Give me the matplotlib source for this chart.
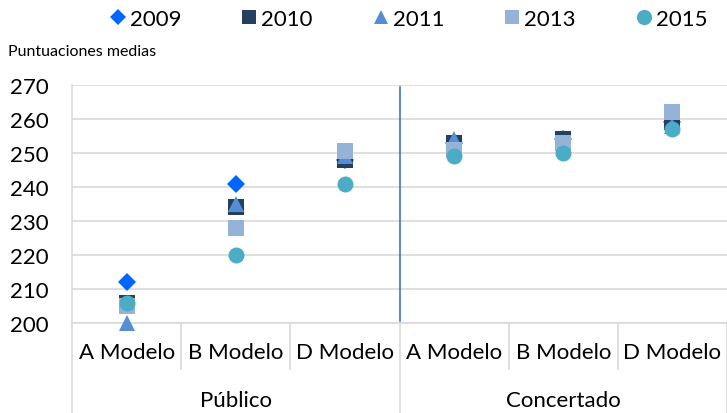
import matplotlib.pyplot as plt
from matplotlib.lines import Line2D

plt.rcParams['font.family'] = ['Lato', 'DejaVu Sans']

# Datos: puntuaciones medias por red y modelo
groups = ['Público', 'Concertado']
models = ['A Modelo', 'B Modelo', 'D Modelo', 'A Modelo', 'B Modelo', 'D Modelo']
years = ['2009', '2010', '2011', '2013', '2015']

v2009 = [212, 241, 248, 253, 254, 259]
v2010 = [206, 234, 248, 253, 254, 259]
v2011 = [200, 235, 249, 254, 253, 258]
v2013 = [205, 228, 250.5, 251, 253, 262]
v2015 = [206, 220, 241, 249, 250, 257]

series = [v2009, v2010, v2011, v2013, v2015]
colors = ['#0066FF', '#243F60', '#558ED5', '#95B3D7', '#4BACC6']
markers = ['D', 's', '^', 's', 'o']
sizes = [9, 11, 11, 11, 11.5]

FS = 16

fig = plt.figure(figsize=(7.27, 4.14), dpi=100)
ax = fig.add_axes([72 / 727, 1 - 324 / 414, 1 - 72 / 727, (324 - 86) / 414])

xs = [i + 0.5 for i in range(len(models))]
for vals, c, m, s, lab in zip(series, colors, markers, sizes, years):
    ax.plot(xs, vals, linestyle='none', marker=m, color=c, markersize=s,
            markeredgewidth=0, label=lab, zorder=3, clip_on=False)

ax.set_xlim(0, len(models))
ax.set_ylim(200, 270)
ax.set_yticks(range(200, 271, 10))
ax.tick_params(axis='y', length=0, labelsize=FS, pad=17)
ax.tick_params(axis='x', length=0, labelbottom=False)
ax.grid(True, axis='y', color='#D9D9D9', linewidth=1.2, zorder=0)
for side in ['top', 'right']:
    ax.spines[side].set_visible(False)
ax.spines['left'].set_color('#D9D9D9')
ax.spines['bottom'].set_color('#D9D9D9')
ax.spines['left'].set_linewidth(1.2)
ax.spines['bottom'].set_linewidth(1.2)

# separador entre redes
ax.axvline(3, ymin=0.01, ymax=0.99, color='#4472C4', linewidth=1.2, zorder=2)

# etiquetas de categoría en dos niveles
trans = ax.get_xaxis_transform()
for i, m in enumerate(models):
    ax.text(i + 0.5, -0.12, m, transform=trans, ha='center', va='center', fontsize=FS)
for i in range(1, len(models)):
    if i % 3 != 0:
        ax.plot([i, i], [0, -0.195], transform=trans, color='#D9D9D9', lw=1.2, clip_on=False)
for i in range(0, len(models) + 1, 3):
    ax.plot([i, i], [0, -0.38], transform=trans, color='#D9D9D9', lw=1.2, clip_on=False)
for g, name in enumerate(groups):
    ax.text(g * 3 + 1.5, -0.325, name, transform=trans, ha='center', va='center', fontsize=FS)

fig.text(8 / 727, 1 - 52 / 414, 'Puntuaciones medias', fontsize=11.5, va='center', ha='left')

handles = [Line2D([], [], linestyle='none', marker=m, color=c, markersize=s * 0.95,
                  markeredgewidth=0) for c, m, s in zip(colors, markers, sizes)]
fig.legend(handles, years, loc='center', bbox_to_anchor=(0.562, 1 - 20 / 414), ncol=5,
           frameon=False, fontsize=FS, handlelength=0.7, handletextpad=0.2,
           columnspacing=2.7, borderaxespad=0)

fig.savefig('out.png', dpi=100)
